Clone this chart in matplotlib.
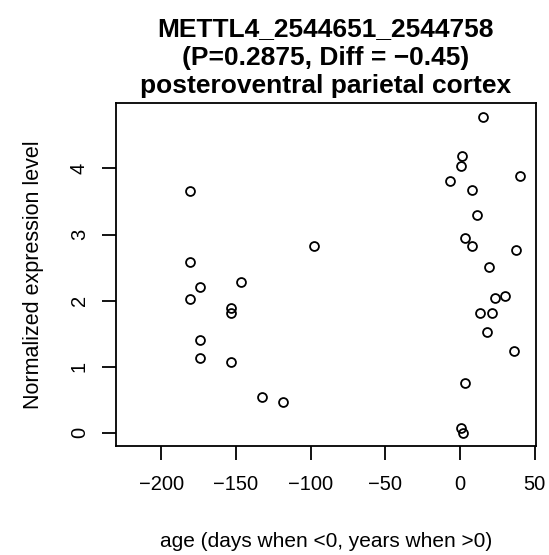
import matplotlib

matplotlib.use("Agg")
import matplotlib.pyplot as plt

plt.rcParams["font.family"] = ["Liberation Sans", "DejaVu Sans"]

# sample ages (days when <0, years when >0) and normalized expression
age = [-180.6, -180.6, -174.4, -180.6, -146.5, -97.7, -153.6, -153.6, -174.4, -174.4,
       -153.6, -132.4, -118.6,
       15.2, 1.3, 0.5, -6.7, 40.1, 8.0, 11.2, 3.1, 8.2, 37.3, 19.2, 30.3, 23.2, 13.2,
       21.2, 18.3, 36.1, 3.1, 0.7, 2.2]
expr = [3.66, 2.59, 2.21, 2.02, 2.28, 2.83, 1.89, 1.82, 1.40, 1.13, 1.07, 0.54, 0.46,
        4.78, 4.19, 4.03, 3.81, 3.89, 3.67, 3.30, 2.94, 2.82, 2.77, 2.51, 2.07, 2.04,
        1.81, 1.81, 1.53, 1.24, 0.75, 0.07, 0.0]

xticks = [-200, -150, -100, -50, 0, 50]
yticks = [0, 1, 2, 3, 4]

fig = plt.figure(figsize=(5.49, 5.55), dpi=100)
ax = fig.add_axes([0.2113, 0.1964, 0.7650, 0.6180])
ax.plot(age, expr, "o", mfc="none", mec="black", ms=6.4, mew=1.3)

ax.set_xlim(-230.4, 50.9)
ax.set_ylim(-0.2, 4.99)
ax.set_xticks(xticks)
ax.set_xticklabels([str(t).replace("-", "\u2212") for t in xticks])
ax.set_yticks(yticks)
ax.set_yticklabels([str(t) for t in yticks], rotation=90, va="center")
ax.tick_params(direction="out", length=10, width=1.3, labelsize=14.5)
ax.tick_params(axis="x", pad=11)
ax.tick_params(axis="y", pad=9.5)
for s in ax.spines.values():
    s.set_linewidth(1.3)

ax.set_xlabel("age (days when <0, years when >0)", fontsize=15, labelpad=27)
ax.set_ylabel("Normalized expression level", fontsize=15.5, labelpad=19)
ax.set_title("METTL4_2544651_2544758\n(P=0.2875, Diff = \u22120.45)\nposteroventral parietal cortex",
             fontsize=19, fontweight="bold", linespacing=1.25, pad=7)

fig.savefig("out.png", dpi=100)
